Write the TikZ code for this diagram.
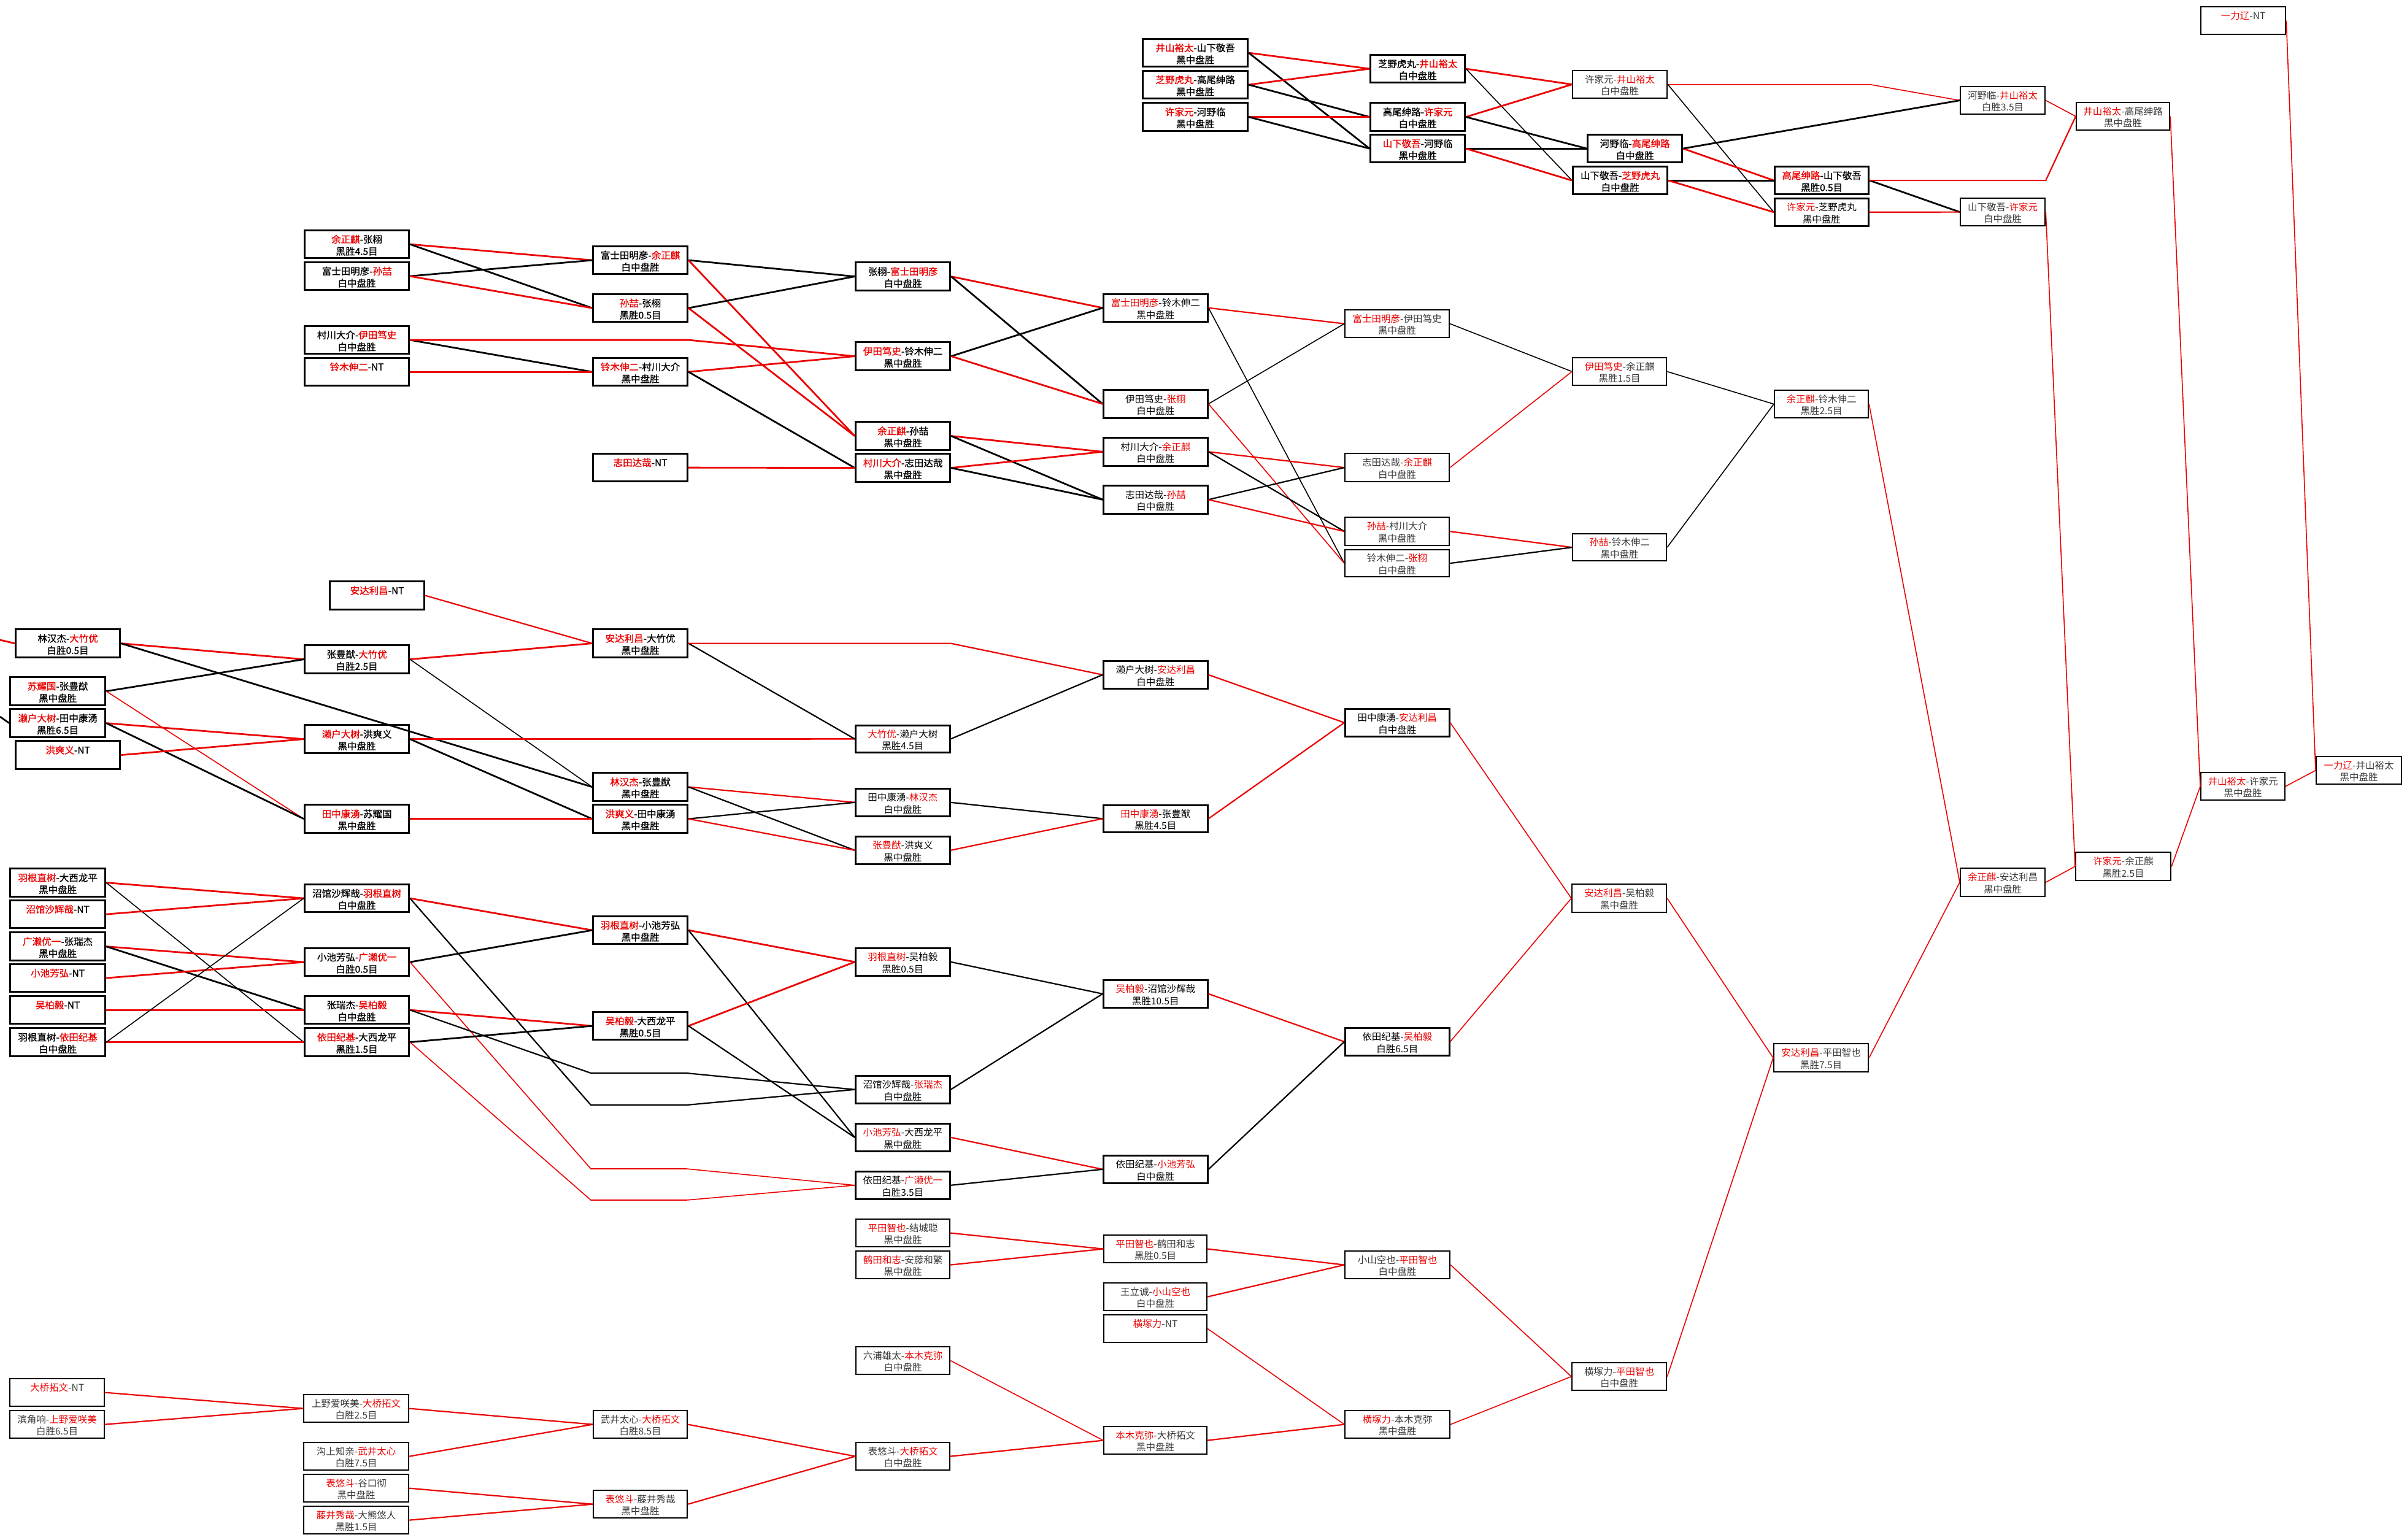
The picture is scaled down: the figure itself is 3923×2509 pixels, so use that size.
\documentclass[tikz,border=0pt]{standalone}
\usepackage{fontspec}
\setmainfont{Noto Sans CJK SC}
\newfontfamily\bcjk[FakeBold=1.2]{Noto Sans CJK SC}
\definecolor{wred}{RGB}{235,0,0}
\definecolor{tgrey}{RGB}{55,55,55}
\newcommand\rd[1]{\textcolor{wred}{#1}}
\newcommand\bx[8]{%
  \node[#6, minimum width={#4-#2}, minimum height={#5-#3}, anchor=north west] (#1) at (#2,#3)
  {\rule{0pt}{18pt}#7\\#8\rule[-3pt]{0pt}{3pt}};}
\tikzset{
  boxbase/.style={draw=black, rectangle, inner sep=0pt, align=center},
  bB/.style={boxbase, line width=3.2pt, text=black, font={\bcjk\fontsize{15.5}{19.5}\selectfont}},
  bR/.style={boxbase, line width=2.6pt, text=black, font={\fontsize{15.5}{19.5}\selectfont}},
  bL/.style={boxbase, line width=2.2pt, text=tgrey, font={\fontsize{15.5}{19.5}\selectfont}},
  rT/.style={draw=wred, line width=2.8pt},
  rM/.style={draw=wred, line width=2.2pt},
  rN/.style={draw=wred, line width=1.6pt},
  kT/.style={draw=black, line width=2.8pt},
  kM/.style={draw=black, line width=2.2pt},
  kN/.style={draw=black, line width=1.6pt},
}
\begin{document}
\begin{tikzpicture}[x=1pt,y=-1pt]
\fill[white] (0,0) rectangle (3923,2509);
\useasboundingbox (0,0) rectangle (3923,2509);
% ---------------- top group
\bx{A1}{1861}{62}{2032}{107}{bB}{\rd{井山裕太}-山下敬吾}{黑中盘胜}
\bx{A2}{1861}{114}{2032}{159}{bB}{\rd{芝野虎丸}-高尾绅路}{黑中盘胜}
\bx{A3}{1861}{166}{2032}{212}{bB}{\rd{许家元}-河野临}{黑中盘胜}
\bx{B1}{2232}{88}{2386}{133}{bB}{芝野虎丸-\rd{井山裕太}}{白中盘胜}
\bx{B2}{2232}{166}{2386}{212}{bB}{高尾绅路-\rd{许家元}}{白中盘胜}
\bx{B3}{2232}{218}{2386}{263}{bB}{\rd{山下敬吾}-河野临}{黑中盘胜}
\bx{C1}{2562}{114}{2716}{159}{bL}{许家元-\rd{井山裕太}}{白中盘胜}
\bx{C2}{2586}{218}{2740}{263}{bB}{河野临-\rd{高尾绅路}}{白中盘胜}
\bx{C3}{2562}{270}{2716}{315}{bB}{山下敬吾-\rd{芝野虎丸}}{白中盘胜}
\bx{D1}{2891}{270}{3044}{315}{bB}{\rd{高尾绅路}-山下敬吾}{黑胜0.5目}
\bx{D2}{2891}{322}{3044}{367}{bR}{\rd{许家元}-芝野虎丸}{黑中盘胜}
\bx{E1}{3194}{140}{3332}{185}{bL}{河野临-\rd{井山裕太}}{白胜3.5目}
\bx{E2}{3194}{322}{3332}{367}{bL}{山下敬吾-\rd{许家元}}{白中盘胜}
\bx{F1}{3383}{166}{3535}{211}{bL}{\rd{井山裕太}-高尾绅路}{黑中盘胜}
\bx{G1}{3586}{10}{3724}{55}{bL}{\rd{一力辽}-NT}{}
% ---------------- right column
\bx{F2}{3586}{1258}{3723}{1303}{bL}{\rd{井山裕太}-许家元}{黑中盘胜}
\bx{G2}{3774}{1232}{3913}{1277}{bL}{\rd{一力辽}-井山裕太}{黑中盘胜}
\bx{X3}{3382}{1388}{3537}{1434}{bL}{\rd{许家元}-余正麒}{黑胜2.5目}
\bx{X2}{3194}{1414}{3332}{1460}{bL}{\rd{余正麒}-安达利昌}{黑中盘胜}
\bx{Y}{2890}{1700}{3044}{1746}{bL}{\rd{安达利昌}-平田智也}{黑胜7.5目}
\bx{Z}{2561}{1440}{2715}{1486}{bL}{\rd{安达利昌}-吴柏毅}{黑中盘胜}
% ---------------- upper middle group
\bx{L1}{495}{374}{665}{419}{bB}{\rd{余正麒}-张栩}{黑胜4.5目}
\bx{L2}{495}{426}{665}{471}{bB}{富士田明彦-\rd{孙喆}}{白中盘胜}
\bx{L3}{495}{530}{665}{575}{bB}{村川大介-\rd{伊田笃史}}{白中盘胜}
\bx{L4}{495}{582}{665}{627}{bB}{\rd{铃木伸二}-NT}{}
\bx{M1}{965}{400}{1119}{445}{bB}{富士田明彦-\rd{余正麒}}{白中盘胜}
\bx{M2}{965}{478}{1119}{523}{bB}{\rd{孙喆}-张栩}{黑胜0.5目}
\bx{M3}{965}{582}{1119}{627}{bB}{\rd{铃木伸二}-村川大介}{黑中盘胜}
\bx{M4}{965}{738}{1119}{783}{bB}{\rd{志田达哉}-NT}{}
\bx{N1}{1393}{426}{1547}{472}{bB}{张栩-\rd{富士田明彦}}{白中盘胜}
\bx{N2}{1393}{556}{1547}{602}{bB}{\rd{伊田笃史}-铃木伸二}{黑中盘胜}
\bx{N3}{1393}{686}{1547}{732}{bB}{\rd{余正麒}-孙喆}{黑中盘胜}
\bx{N4}{1393}{738}{1547}{784}{bB}{\rd{村川大介}-志田达哉}{黑中盘胜}
\bx{O1}{1797}{478}{1967}{523}{bR}{\rd{富士田明彦}-铃木伸二}{黑中盘胜}
\bx{O2}{1797}{634}{1967}{680}{bR}{伊田笃史-\rd{张栩}}{白中盘胜}
\bx{O3}{1797}{712}{1967}{758}{bR}{村川大介-\rd{余正麒}}{白中盘胜}
\bx{O4}{1797}{790}{1967}{836}{bR}{志田达哉-\rd{孙喆}}{白中盘胜}
\bx{P1}{2191}{504}{2361}{549}{bL}{\rd{富士田明彦}-伊田笃史}{黑中盘胜}
\bx{P2}{2191}{738}{2361}{784}{bL}{志田达哉-\rd{余正麒}}{白中盘胜}
\bx{P3}{2191}{842}{2361}{888}{bL}{\rd{孙喆}-村川大介}{黑中盘胜}
\bx{P4}{2191}{895}{2361}{939}{bL}{铃木伸二-\rd{张栩}}{白中盘胜}
\bx{Q1}{2562}{582}{2715}{627}{bL}{\rd{伊田笃史}-余正麒}{黑胜1.5目}
\bx{Q2}{2562}{869}{2715}{913}{bL}{\rd{孙喆}-铃木伸二}{黑中盘胜}
\bx{Q}{2891}{635}{3044}{680}{bL}{\rd{余正麒}-铃木伸二}{黑胜2.5目}
% ---------------- middle group
\bx{R1}{24}{1024}{194}{1070}{bB}{林汉杰-\rd{大竹优}}{白胜0.5目}
\bx{R2}{15}{1102}{170}{1148}{bB}{\rd{苏耀国}-张豊猷}{黑中盘胜}
\bx{R3}{15}{1154}{170}{1200}{bB}{\rd{濑户大树}-田中康湧}{黑胜6.5目}
\bx{R4}{24}{1206}{194}{1252}{bB}{\rd{洪爽义}-NT}{}
\bx{S0}{536}{946}{690}{992}{bB}{\rd{安达利昌}-NT}{}
\bx{S1}{495}{1050}{665}{1096}{bB}{张豊猷-\rd{大竹优}}{白胜2.5目}
\bx{S2}{495}{1180}{665}{1226}{bB}{\rd{濑户大树}-洪爽义}{黑中盘胜}
\bx{S3}{495}{1310}{665}{1356}{bB}{\rd{田中康湧}-苏耀国}{黑中盘胜}
\bx{T0}{965}{1024}{1119}{1070}{bB}{\rd{安达利昌}-大竹优}{黑中盘胜}
\bx{T1}{965}{1258}{1119}{1304}{bB}{\rd{林汉杰}-张豊猷}{黑中盘胜}
\bx{T2}{965}{1310}{1119}{1356}{bB}{\rd{洪爽义}-田中康湧}{黑中盘胜}
\bx{U1}{1393}{1181}{1547}{1225}{bR}{\rd{大竹优}-濑户大树}{黑胜4.5目}
\bx{U2}{1393}{1284}{1547}{1329}{bR}{田中康湧-\rd{林汉杰}}{白中盘胜}
\bx{U3}{1393}{1362}{1547}{1407}{bR}{\rd{张豊猷}-洪爽义}{黑中盘胜}
\bx{V1}{1797}{1076}{1967}{1121}{bR}{濑户大树-\rd{安达利昌}}{白中盘胜}
\bx{V2}{1797}{1311}{1967}{1355}{bR}{\rd{田中康湧}-张豊猷}{黑胜4.5目}
\bx{W1}{2191}{1154}{2361}{1199}{bR}{田中康湧-\rd{安达利昌}}{白中盘胜}
% ---------------- lower group
\bx{a1}{15}{1414}{170}{1460}{bB}{\rd{羽根直树}-大西龙平}{黑中盘胜}
\bx{a2}{15}{1466}{170}{1511}{bB}{\rd{沼馆沙辉哉}-NT}{}
\bx{a3}{15}{1518}{170}{1564}{bB}{\rd{广濑优一}-张瑞杰}{黑中盘胜}
\bx{a4}{15}{1570}{170}{1615}{bB}{\rd{小池芳弘}-NT}{}
\bx{a5}{15}{1622}{170}{1667}{bB}{\rd{吴柏毅}-NT}{}
\bx{a6}{15}{1674}{170}{1720}{bB}{羽根直树-\rd{依田纪基}}{白中盘胜}
\bx{b1}{495}{1440}{665}{1485}{bB}{沼馆沙辉哉-\rd{羽根直树}}{白中盘胜}
\bx{b2}{495}{1544}{665}{1589}{bB}{小池芳弘-\rd{广濑优一}}{白胜0.5目}
\bx{b3}{495}{1622}{665}{1667}{bB}{张瑞杰-\rd{吴柏毅}}{白中盘胜}
\bx{b4}{495}{1674}{665}{1720}{bB}{\rd{依田纪基}-大西龙平}{黑胜1.5目}
\bx{c1}{965}{1492}{1119}{1537}{bB}{\rd{羽根直树}-小池芳弘}{黑中盘胜}
\bx{c2}{965}{1648}{1119}{1693}{bB}{\rd{吴柏毅}-大西龙平}{黑胜0.5目}
\bx{d1}{1393}{1544}{1547}{1589}{bR}{\rd{羽根直树}-吴柏毅}{黑胜0.5目}
\bx{d2}{1393}{1752}{1547}{1797}{bR}{沼馆沙辉哉-\rd{张瑞杰}}{白中盘胜}
\bx{d3}{1393}{1830}{1547}{1875}{bR}{\rd{小池芳弘}-大西龙平}{黑中盘胜}
\bx{d4}{1393}{1908}{1547}{1953}{bR}{依田纪基-\rd{广濑优一}}{白胜3.5目}
\bx{e1}{1797}{1596}{1967}{1641}{bR}{\rd{吴柏毅}-沼馆沙辉哉}{黑胜10.5目}
\bx{e2}{1797}{1882}{1967}{1927}{bR}{依田纪基-\rd{小池芳弘}}{白中盘胜}
\bx{f1}{2191}{1674}{2361}{1719}{bR}{依田纪基-\rd{吴柏毅}}{白胜6.5目}
% ---------------- bottom group
\bx{g1}{1394}{1986}{1547}{2031}{bL}{\rd{平田智也}-结城聪}{黑中盘胜}
\bx{g2}{1394}{2038}{1547}{2083}{bL}{\rd{鹤田和志}-安藤和繁}{黑中盘胜}
\bx{g3}{1394}{2194}{1547}{2239}{bL}{六浦雄太-\rd{本木克弥}}{白中盘胜}
\bx{g4}{1394}{2350}{1547}{2395}{bL}{表悠斗-\rd{大桥拓文}}{白中盘胜}
\bx{h1}{1798}{2012}{1966}{2057}{bL}{\rd{平田智也}-鹤田和志}{黑胜0.5目}
\bx{h2}{1798}{2090}{1966}{2135}{bL}{王立诚-\rd{小山空也}}{白中盘胜}
\bx{h3}{1798}{2142}{1966}{2187}{bL}{\rd{横塚力}-NT}{}
\bx{h4}{1798}{2324}{1966}{2369}{bL}{\rd{本木克弥}-大桥拓文}{黑中盘胜}
\bx{i1}{2191}{2038}{2362}{2083}{bL}{小山空也-\rd{平田智也}}{白中盘胜}
\bx{i2}{2191}{2298}{2362}{2343}{bL}{\rd{横塚力}-本木克弥}{黑中盘胜}
\bx{j}{2561}{2220}{2715}{2265}{bL}{横塚力-\rd{平田智也}}{白中盘胜}
\bx{k1}{15}{2246}{169}{2291}{bL}{\rd{大桥拓文}-NT}{}
\bx{k2}{15}{2298}{169}{2343}{bL}{滨角响-\rd{上野爱咲美}}{白胜6.5目}
\bx{l1}{494}{2272}{665}{2317}{bL}{上野爱咲美-\rd{大桥拓文}}{白胜2.5目}
\bx{l2}{494}{2350}{665}{2395}{bL}{沟上知亲-\rd{武井太心}}{白胜7.5目}
\bx{l3}{494}{2402}{665}{2447}{bL}{\rd{表悠斗}-谷口彻}{黑中盘胜}
\bx{l4}{494}{2454}{665}{2499}{bL}{\rd{藤井秀哉}-大熊悠人}{黑胜1.5目}
\bx{m1}{966}{2298}{1119}{2343}{bL}{武井太心-\rd{大桥拓文}}{白胜8.5目}
\bx{m2}{966}{2428}{1119}{2473}{bL}{\rd{表悠斗}-藤井秀哉}{黑中盘胜}
% ---------------- free points
\coordinate (stubR1) at (0,1043);
\coordinate (stubR3) at (0,1168);
\coordinate (vb1a) at (963,1801); \coordinate (vb1b) at (1119,1801);
\coordinate (vb3a) at (963,1749); \coordinate (vb3b) at (1119,1749);
\coordinate (vb2a) at (963,1905); \coordinate (vb2b) at (1119,1905);
\coordinate (vb4a) at (963,1956); \coordinate (vb4b) at (1119,1956);
% ---------------- connectors: top group
\draw[rT] (A1.east) -- (B1.west);
\draw[kT] (A1.east) -- (B3.west);
\draw[rT] (A2.east) -- (B1.west);
\draw[kT] (A2.east) -- (B2.west);
\draw[rT] (A3.east) -- (B2.west);
\draw[kT] (A3.east) -- (B3.west);
\draw[rT] (B1.east) -- (C1.west);
\draw[kN] (B1.east) -- (C3.west);
\draw[rT] (B2.east) -- (C1.west);
\draw[kT] (B2.east) -- (C2.west);
\draw[kT] (B3.east) -- (C2.west);
\draw[rT] (B3.east) -- (C3.west);
\draw[rN] (C1.east) -- (C1.east -| D1.east) -- (E1.west);
\draw[kN] (C1.east) -- (D2.west);
\draw[rT] (C2.east) -- (D1.west);
\draw[kT] (C2.east) -- (E1.west);
\draw[kT] (C3.east) -- (D1.west);
\draw[rT] (C3.east) -- (D2.west);
\draw[kT] (D1.east) -- (E2.west);
\draw[rM] (D1.east) -- (D1.east -| E1.east) -- (F1.west);
\draw[rM] (D2.east) -- (E2.west);
\draw[rN] (E1.east) -- (F1.west);
\draw[rN] (E2.east) -- (X3.west);
\draw[rN] (F1.east) -- (F2.west);
\draw[rN] (G1.east) -- (G2.west);
\draw[rN] (F2.east) -- (G2.west);
\draw[rN] (X3.east) -- (F2.west);
\draw[rN] (X2.east) -- (X3.west);
\draw[rN] (Q.east) -- (X2.west);
\draw[rN] (Y.east) -- (X2.west);
\draw[rN] (Z.east) -- (Y.west);
\draw[rN] (j.east) -- (Y.west);
% ---------------- upper middle
\draw[rT] (L1.east) -- (M1.west);
\draw[kT] (L1.east) -- (M2.west);
\draw[kT] (L2.east) -- (M1.west);
\draw[rT] (L2.east) -- (M2.west);
\draw[kT] (L3.east) -- (M3.west);
\draw[rT] (L3.east) -- (L3.east -| M3.east) -- (N2.west);
\draw[rT] (L4.east) -- (M3.west);
\draw[kT] (M1.east) -- (N1.west);
\draw[rT] (M1.east) -- (N3.west);
\draw[kT] (M2.east) -- (N1.west);
\draw[rT] (M2.east) -- (N3.west);
\draw[rT] (M3.east) -- (N2.west);
\draw[kT] (M3.east) -- (N4.west);
\draw[rT] (M4.east) -- (N4.west);
\draw[rT] (N1.east) -- (O1.west);
\draw[kT] (N1.east) -- (O2.west);
\draw[kT] (N2.east) -- (O1.west);
\draw[rT] (N2.east) -- (O2.west);
\draw[rT] (N3.east) -- (O3.west);
\draw[kT] (N3.east) -- (O4.west);
\draw[rT] (N4.east) -- (O3.west);
\draw[kT] (N4.east) -- (O4.west);
\draw[rM] (O1.east) -- (P1.west);
\draw[kN] (O1.east) -- (P4.west);
\draw[kN] (O2.east) -- (P1.west);
\draw[rN] (O2.east) -- (P4.west);
\draw[rM] (O3.east) -- (P2.west);
\draw[kM] (O3.east) -- (P3.west);
\draw[kM] (O4.east) -- (P2.west);
\draw[rM] (O4.east) -- (P3.west);
\draw[kN] (P1.east) -- (Q1.west);
\draw[rN] (P2.east) -- (Q1.west);
\draw[rM] (P3.east) -- (Q2.west);
\draw[kM] (P4.east) -- (Q2.west);
\draw[kN] (Q1.east) -- (Q.west);
\draw[kN] (Q2.east) -- (Q.west);
% ---------------- middle
\draw[rT] (stubR1) -- (R1.west);
\draw[kT] (stubR3) -- (R3.west);
\draw[rT] (R1.east) -- (S1.west);
\draw[kT] (R1.east) -- (T1.west);
\draw[kT] (R2.east) -- (S1.west);
\draw[rN] (R2.east) -- (S3.west);
\draw[rT] (R3.east) -- (S2.west);
\draw[kT] (R3.east) -- (S3.west);
\draw[rT] (R4.east) -- (S2.west);
\draw[rM] (S0.east) -- (T0.west);
\draw[rT] (S1.east) -- (T0.west);
\draw[kN] (S1.east) -- (T1.west);
\draw[rT] (S2.east) -- (U1.west);
\draw[kT] (S2.east) -- (T2.west);
\draw[rT] (S3.east) -- (T2.west);
\draw[kM] (T0.east) -- (U1.west);
\draw[rM] (T0.east) -- (T0.east -| U1.east) -- (V1.west);
\draw[rM] (T1.east) -- (U2.west);
\draw[kM] (T1.east) -- (U3.west);
\draw[kM] (T2.east) -- (U2.west);
\draw[rM] (T2.east) -- (U3.west);
\draw[kM] (U1.east) -- (V1.west);
\draw[kM] (U2.east) -- (V2.west);
\draw[rM] (U3.east) -- (V2.west);
\draw[rM] (V1.east) -- (W1.west);
\draw[rM] (V2.east) -- (W1.west);
\draw[rN] (W1.east) -- (Z.west);
% ---------------- lower
\draw[rT] (a1.east) -- (b1.west);
\draw[kN] (a1.east) -- (b4.west);
\draw[rT] (a2.east) -- (b1.west);
\draw[rT] (a3.east) -- (b2.west);
\draw[kT] (a3.east) -- (b3.west);
\draw[rT] (a4.east) -- (b2.west);
\draw[rT] (a5.east) -- (b3.west);
\draw[rT] (a6.east) -- (b4.west);
\draw[kN] (a6.east) -- (b1.west);
\draw[rT] (b1.east) -- (c1.west);
\draw[kM] (b1.east) -- (vb1a) -- (vb1b) -- (d2.west);
\draw[kT] (b2.east) -- (c1.west);
\draw[rN] (b2.east) -- (vb2a) -- (vb2b) -- (d4.west);
\draw[rT] (b3.east) -- (c2.west);
\draw[kM] (b3.east) -- (vb3a) -- (vb3b) -- (d2.west);
\draw[kT] (b4.east) -- (c2.west);
\draw[rN] (b4.east) -- (vb4a) -- (vb4b) -- (d4.west);
\draw[rT] (c1.east) -- (d1.west);
\draw[kM] (c1.east) -- (d3.west);
\draw[rT] (c2.east) -- (d1.west);
\draw[kM] (c2.east) -- (d3.west);
\draw[kM] (d1.east) -- (e1.west);
\draw[kM] (d2.east) -- (e1.west);
\draw[rM] (d3.east) -- (e2.west);
\draw[kM] (d4.east) -- (e2.west);
\draw[rM] (e1.east) -- (f1.west);
\draw[kM] (e2.east) -- (f1.west);
\draw[rN] (f1.east) -- (Z.west);
% ---------------- bottom
\draw[rM] (g1.east) -- (h1.west);
\draw[rM] (g2.east) -- (h1.west);
\draw[rM] (h1.east) -- (i1.west);
\draw[rM] (h2.east) -- (i1.west);
\draw[rN] (h3.east) -- (i2.west);
\draw[rM] (h4.east) -- (i2.west);
\draw[rN] (g3.east) -- (h4.west);
\draw[rM] (g4.east) -- (h4.west);
\draw[rN] (i1.east) -- (j.west);
\draw[rN] (i2.east) -- (j.west);
\draw[rM] (k1.east) -- (l1.west);
\draw[rM] (k2.east) -- (l1.west);
\draw[rM] (l1.east) -- (m1.west);
\draw[rM] (l2.east) -- (m1.west);
\draw[rM] (l3.east) -- (m2.west);
\draw[rM] (l4.east) -- (m2.west);
\draw[rM] (m1.east) -- (g4.west);
\draw[rM] (m2.east) -- (g4.west);
\end{tikzpicture}
\end{document}
